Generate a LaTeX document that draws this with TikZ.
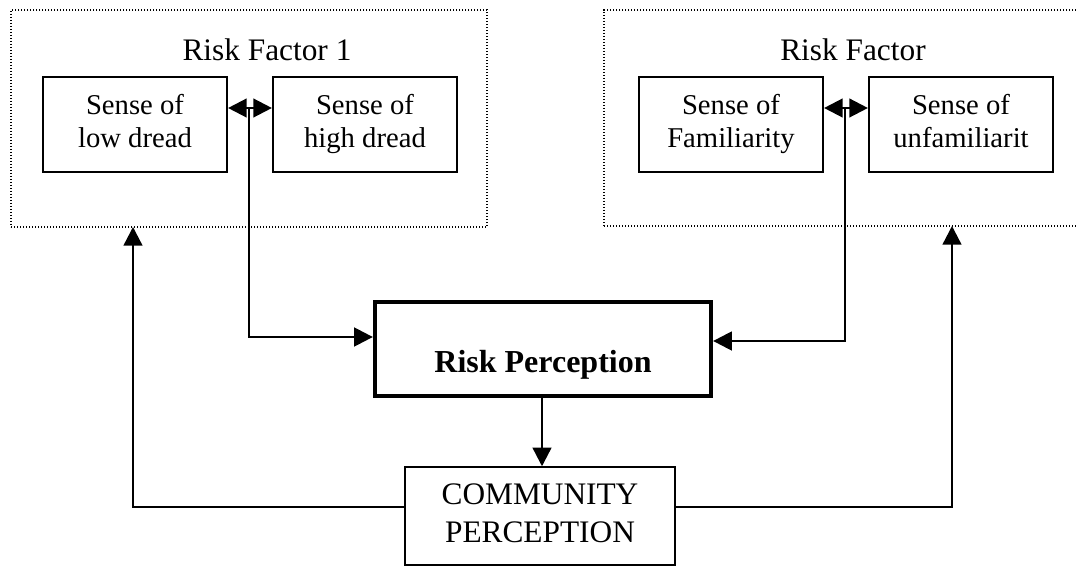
\documentclass[tikz,border=0pt]{standalone}
\usepackage{fontspec}
\setmainfont{Liberation Serif}
\usetikzlibrary{arrows.meta}
\begin{document}
\begin{tikzpicture}[x=0.75pt,y=-0.75pt,
  frame/.style={draw, line width=0.8pt, dash pattern=on 0.8pt off 1.45pt, inner sep=0pt},
  factor/.style={draw, line width=1.6pt, inner sep=0pt, align=center,
    minimum width=138pt, minimum height=71pt, font=\fontsize{21.5}{25}\selectfont},
  central/.style={draw, line width=3.2pt, inner sep=0pt,
    minimum width=252pt, minimum height=71pt},
  centraltext/.style={font=\fontsize{24}{28}\selectfont\bfseries, inner sep=0pt, anchor=base},
  community/.style={draw, line width=1.6pt, inner sep=0pt, align=center,
    minimum width=202pt, minimum height=73pt, font=\fontsize{23.5}{28}\selectfont},
  title/.style={font=\fontsize{23.5}{28}\selectfont, inner sep=0pt},
  tip/.tip={Triangle[length=14pt,width=14pt]},
  link/.style={line width=1.8pt, -tip},
  twoway/.style={line width=1.8pt, tip-tip}]
\useasboundingbox (0,0) rectangle (1076,567);
\clip (0,0) rectangle (1076,567);
\fill[white] (0,0) rectangle (1076,567);

% dotted groups for the two risk factors
\node[frame, minimum width=357pt, minimum height=162.75pt] (grpL) at (249,118.5) {};
\node[frame, minimum width=357pt, minimum height=162pt] (grpR) at (842,118) {};
\node[title] (titleL) at (267,50) {Risk Factor 1};
\node[title] (titleR) at (853,50) {Risk Factor};

% factor boxes
\node[factor] (low)  at (135,124.5) {Sense of\strut\\low dread\strut};
\node[factor] (high) at (365,124.5) {Sense of\strut\\high dread\strut};
\node[factor] (fam)  at (731,124.5) {Sense of\strut\\Familiarity\strut};
\node[factor] (unf)  at (961,124.5) {Sense of\strut\\unfamiliarit\strut};

% central and bottom boxes
\node[central] (rp) at (543,349) {};
\node[centraltext] (rptext) at (543,372) {Risk Perception};
\node[community] (cp) at (540,516) {COMMUNITY\strut\\PERCEPTION\strut};

% junction points
\coordinate (jL) at (249,108);
\coordinate (jR) at (845,108);

% connectors
\draw[twoway] (low.east |- jL) -- (high.west |- jL);
\draw[twoway] (fam.east |- jR) -- (unf.west |- jR);
\draw[link] (jL) |- (rp.west |- 0,337);
\draw[link] (jR) |- (rp.east |- 0,341);
\draw[link] (rp.south -| 542,0) -- (cp.north -| 542,0);
\draw[link] (cp.west |- 0,507) -| (133,227);
\draw[link] (cp.east |- 0,507) -| (952,226);
\end{tikzpicture}
\end{document}
